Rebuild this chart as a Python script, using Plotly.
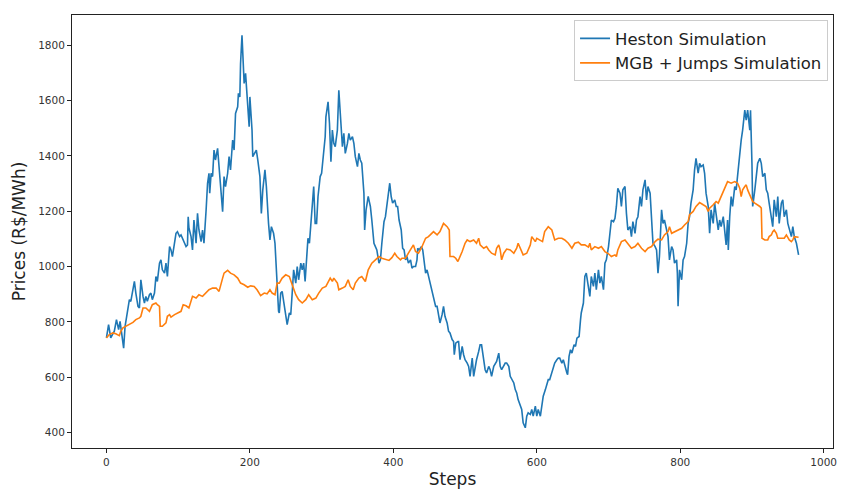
import plotly.graph_objects as go

# Heston simulated path: step index and price (R$/MWh)
heston_steps = [
    0, 3, 6, 11, 14, 17, 19, 22, 24, 26, 30, 32, 34, 37, 39, 41, 44, 46, 48, 51,
    53, 55, 57, 60, 62, 64, 67, 69, 71, 74, 76, 78, 81, 83, 85, 88, 90, 92, 95, 97,
    99, 102, 104, 106, 108, 111, 113, 114,
    115, 118, 120, 122, 125, 127, 129, 132, 134, 136, 139, 141, 143, 144, 146, 148, 150, 152, 155, 157,
    159, 162, 164, 166, 169, 171, 173, 176, 178, 180, 183, 184, 186, 187, 189, 190, 192, 194, 196, 199,
    200, 203, 204, 207, 209, 211, 214, 216, 218, 221, 223, 226, 228, 230, 233, 235, 237, 238, 240,
    241, 243, 245, 248, 250, 252, 255, 257, 259, 261, 264, 266, 268, 271, 273, 275, 277, 279, 281, 283,
    285, 287, 289, 291, 293, 295, 298, 300, 302, 305, 306, 309, 311, 313, 315, 317, 319, 322, 324, 326,
    329, 331, 333, 336, 338, 340, 343, 345, 347, 350, 352, 354, 356, 359, 360, 362, 365,
    366, 368, 370, 373, 375, 377, 380, 382, 384, 387, 389, 391, 394, 395, 397, 399, 402, 404, 406, 408,
    411, 413, 415, 417, 419, 421, 424, 426, 428, 431, 433, 434, 436, 439, 441, 443, 445, 447, 449, 452,
    454, 456, 459, 461, 463, 465, 468, 470, 472, 475, 477, 479, 482, 484, 485, 487, 490,
    491, 493, 496, 498, 500, 503, 505, 507, 510, 512, 514, 516, 519, 521, 523, 526, 528, 530, 533, 535,
    537, 540, 542, 544, 547, 549, 551, 554, 556, 558, 561, 563, 565, 568, 570, 572, 574, 577, 579, 581,
    584, 586, 588, 591, 593, 595, 598, 600, 602, 605, 607, 609, 612, 614, 616,
    618, 621, 623, 625, 628, 630, 632, 635, 637, 639, 642, 643, 645, 647, 649, 652, 654, 656, 659, 661,
    662, 665, 667, 669, 672, 674, 676, 679, 681, 683, 686, 688, 690, 693, 695, 697, 700, 702, 704, 707,
    709, 711, 713, 716, 718, 720, 723, 725, 727, 730, 732, 734, 737, 739, 741,
    744, 746, 748, 751, 753, 755, 758, 760, 762, 765, 767, 769, 771, 774, 776, 778, 781, 783, 785, 788,
    790, 792, 795, 796, 797, 799, 802, 804, 806, 809, 811, 813, 815, 818, 820, 822, 825, 827, 829, 832,
    834, 836, 839, 841, 843, 846, 848, 850, 853, 855, 857, 860, 862, 864, 866,
    867, 869, 871, 873, 876, 878, 880, 883, 885, 887, 890, 892, 894, 897, 898, 900, 901, 904, 906, 908,
    911, 913, 915, 918, 920, 922, 924, 927, 929, 931, 934, 936, 938, 941, 943, 945, 948, 950, 952, 955,
    957, 959, 962, 964, 965,
]
heston_prices = [
    742, 790, 742, 766, 808, 772, 802, 742, 705, 784, 856, 880, 874, 916, 946, 904, 856, 850, 952, 892,
    868, 892, 874, 898, 904, 880, 904, 964, 946, 1012, 1024, 988, 976, 1012, 964, 1072, 1060, 1036, 1096, 1120,
    1126, 1108, 1114, 1102, 1096, 1072, 1078, 1180,
    1140, 1108, 1060, 1168, 1084, 1192, 1132, 1090, 1132, 1084, 1205, 1301, 1337, 1265, 1337, 1325, 1421, 1385, 1427, 1361,
    1313, 1198, 1325, 1289, 1337, 1397, 1349, 1457, 1421, 1553, 1577, 1626, 1613, 1734, 1836, 1770, 1662, 1698, 1626, 1505,
    1613, 1493, 1397, 1409, 1421, 1385, 1325, 1192, 1277, 1349, 1289, 1156, 1096, 1144, 1120, 1084, 988, 892, 838,
    832, 904, 910, 856, 832, 790, 832, 826, 904, 988, 940, 1000, 952, 1012, 988, 1012, 946, 1030, 1102, 1084,
    1156, 1198, 1289, 1156, 1156, 1253, 1325, 1337, 1397, 1469, 1541, 1595, 1517, 1379, 1493, 1445, 1433, 1493, 1637, 1565,
    1433, 1481, 1409, 1445, 1481, 1457, 1469, 1445, 1397, 1361, 1409, 1385, 1373, 1265, 1132, 1205, 1253,
    1241, 1217, 1168, 1084, 1072, 1060, 1012, 1024, 1084, 1162, 1180, 1217, 1277, 1301, 1253, 1229, 1241, 1217, 1217, 1168,
    1132, 1066, 1060, 1024, 1036, 1012, 1024, 994, 1000, 1000, 1024, 1066, 1060, 1072, 1060, 1012, 976, 988, 964, 928,
    904, 880, 856, 856, 832, 796, 826, 856, 820, 796, 766, 760, 736, 729, 681, 723, 729,
    729, 663, 711, 681, 663, 651, 639, 603, 669, 603, 639, 663, 693, 717, 717, 651, 627, 615, 639, 627,
    603, 639, 651, 657, 687, 639, 627, 639, 651, 651, 639, 603, 591, 579, 555, 543, 519, 495, 483, 435,
    417, 459, 471, 465, 483, 459, 495, 459, 483, 459, 495, 531, 555, 573, 591,
    591, 615, 639, 651, 663, 669, 669, 651, 663, 639, 615, 609, 675, 699, 687, 717, 711, 741, 747, 808,
    832, 868, 964, 976, 916, 892, 964, 928, 976, 916, 988, 940, 964, 916, 1012, 1024, 1072, 1132, 1168, 1162,
    1174, 1217, 1283, 1265, 1217, 1277, 1289, 1192, 1132, 1144, 1108, 1162, 1120, 1168, 1180,
    1253, 1217, 1277, 1313, 1241, 1289, 1265, 1180, 1084, 1072, 1060, 976, 1036, 1205, 1156, 1168, 1132, 1108, 1024, 1072,
    1060, 1012, 1024, 976, 856, 988, 952, 1024, 1036, 1084, 1156, 1180, 1229, 1277, 1349, 1391, 1337, 1373, 1361, 1367,
    1337, 1265, 1217, 1120, 1205, 1156, 1229, 1180, 1132, 1168, 1144, 1180, 1132, 1078, 1168,
    1060, 1180, 1253, 1217, 1289, 1277, 1337, 1409, 1457, 1493, 1565, 1529, 1565, 1493, 1565, 1373, 1217, 1277, 1337, 1373,
    1391, 1373, 1325, 1337, 1277, 1265, 1229, 1168, 1144, 1241, 1180, 1253, 1156, 1229, 1241, 1180, 1205, 1156, 1132, 1108,
    1144, 1108, 1084, 1048, 1042,
]

# Geometric Brownian motion with jumps: step index and price (R$/MWh)
mgb_steps = [
    0, 4, 9, 13, 18, 20, 23, 27, 32, 37, 41, 46, 48, 51, 55, 60, 64, 69, 71, 74,
    75, 78, 83, 85, 88, 90, 95, 99, 104, 107, 111, 115,
    120, 125, 129, 134, 139, 143, 148, 153, 157, 159, 162, 164, 169, 173, 178, 183, 187, 192, 197, 201,
    206, 210, 215, 220, 224, 228, 231, 235, 238, 241,
    245, 250, 255, 259, 264, 268, 273, 278, 282, 287, 292, 296, 301, 306, 310, 312, 315, 317, 322, 324,
    329, 333, 337, 340, 344, 347, 352, 356, 361, 365,
    370, 375, 380, 384, 389, 394, 398, 402, 405, 410, 412, 417, 421, 426, 428, 431, 435, 439, 442, 445,
    449, 454, 456, 461, 465, 468, 470, 475, 478, 479, 484, 487, 490,
    496, 500, 503, 507, 512, 516, 519, 521, 526, 530, 533, 537, 542, 544, 547, 549, 551, 554, 558, 563,
    568, 572, 574, 577, 581, 586, 591, 593, 595, 598, 600, 605, 608, 611, 614, 616,
    621, 625, 630, 635, 639, 644, 649, 653, 658, 662, 667, 672, 674, 676, 681, 686, 690, 695, 700, 704,
    709, 711, 713, 718, 723, 727, 732, 737, 741,
    746, 751, 755, 760, 765, 769, 774, 778, 783, 785, 788, 792, 797, 802, 806, 811, 813, 818, 822, 827,
    832, 836, 839, 841, 846, 850, 853, 857, 862, 866,
    871, 876, 880, 883, 885, 887, 890, 892, 894, 897, 899, 901, 904, 908, 911, 913, 914, 918, 922, 924,
    927, 929, 931, 934, 936, 941, 945, 948, 950, 952, 955, 957, 959, 962, 965,
]
mgb_prices = [
    742, 754, 760, 757, 750, 766, 778, 784, 790, 798, 808, 814, 820, 850, 850, 838, 862, 868, 862, 856,
    784, 784, 796, 820, 826, 817, 826, 832, 838, 862, 858, 850,
    892, 886, 898, 892, 904, 916, 922, 922, 910, 934, 958, 976, 986, 976, 970, 958, 940, 934, 925, 930,
    928, 916, 895, 904, 901, 916, 904, 898, 940, 940,
    958, 970, 964, 934, 898, 880, 868, 880, 898, 880, 886, 904, 922, 928, 952, 958, 946, 958, 940, 916,
    922, 928, 952, 928, 916, 940, 958, 964, 946, 988,
    1012, 1024, 1036, 1030, 1026, 1022, 1032, 1048, 1036, 1024, 1030, 1030, 1048, 1072, 1078, 1054, 1048, 1066, 1084, 1102,
    1108, 1120, 1126, 1114, 1126, 1144, 1156, 1144, 1132, 1036, 1036, 1030, 1018,
    1054, 1084, 1096, 1090, 1096, 1084, 1102, 1078, 1066, 1072, 1060, 1048, 1042, 1066, 1078, 1060, 1024, 1048, 1063, 1060,
    1048, 1066, 1084, 1066, 1042, 1048, 1078, 1108, 1102, 1090, 1102, 1096, 1090, 1126, 1138, 1144,
    1132, 1096, 1102, 1102, 1096, 1084, 1066, 1084, 1088, 1078, 1078, 1070, 1084, 1060, 1072, 1066, 1072, 1054, 1046, 1036,
    1042, 1036, 1060, 1090, 1096, 1084, 1066, 1072, 1084,
    1066, 1054, 1066, 1072, 1090, 1099, 1096, 1114, 1126, 1144, 1120, 1126, 1132, 1138, 1150, 1162, 1187, 1199, 1217, 1231,
    1223, 1217, 1199, 1211, 1223, 1235, 1229, 1253, 1277, 1307,
    1301, 1307, 1301, 1283, 1253, 1277, 1289, 1295, 1277, 1259, 1247, 1235, 1229, 1223, 1217, 1211, 1102, 1096, 1096, 1108,
    1114, 1126, 1132, 1120, 1102, 1102, 1102, 1114, 1102, 1096, 1090, 1096, 1108, 1108, 1106,
]

x_ticks = [0, 200, 400, 600, 800, 1000]
y_ticks = [400, 600, 800, 1000, 1200, 1400, 1600, 1800]

FONT = "DejaVu Sans, Verdana, sans-serif"

fig = go.Figure()
fig.add_trace(go.Scatter(
    x=heston_steps, y=heston_prices, mode="lines", name="Heston Simulation",
    line=dict(color="#1f77b4", width=1.6),
))
fig.add_trace(go.Scatter(
    x=mgb_steps, y=mgb_prices, mode="lines", name="MGB + Jumps Simulation",
    line=dict(color="#ff7f0e", width=1.6),
))

axis_common = dict(
    showgrid=False, zeroline=False,
    showline=True, linecolor="#222222", linewidth=1, mirror=True,
    ticks="outside", ticklen=4, tickwidth=1, tickcolor="#222222",
    tickfont=dict(family=FONT, size=10.5, color="#333333"),
)

fig.update_layout(
    width=845, height=493,
    margin=dict(l=72, r=8, t=15, b=44),
    paper_bgcolor="white", plot_bgcolor="white",
    font=dict(family=FONT, color="#222222"),
    showlegend=True,
    legend=dict(
        x=0.9935, y=0.988, xanchor="right", yanchor="top",
        bgcolor="rgba(255,255,255,0.85)", bordercolor="#cccccc", borderwidth=1,
        font=dict(family=FONT, size=16.5, color="#222222"),
        tracegroupgap=0, itemwidth=30,
    ),
    xaxis=dict(
        range=[-48, 1013], tickvals=x_ticks,
        title=dict(text="Steps", font=dict(family=FONT, size=17), standoff=6),
        **axis_common,
    ),
    yaxis=dict(
        range=[344, 1909], tickvals=y_ticks,
        title=dict(text="Prices (R$/MWh)", font=dict(family=FONT, size=17), standoff=8),
        **axis_common,
    ),
)

fig.write_html("out.html")
